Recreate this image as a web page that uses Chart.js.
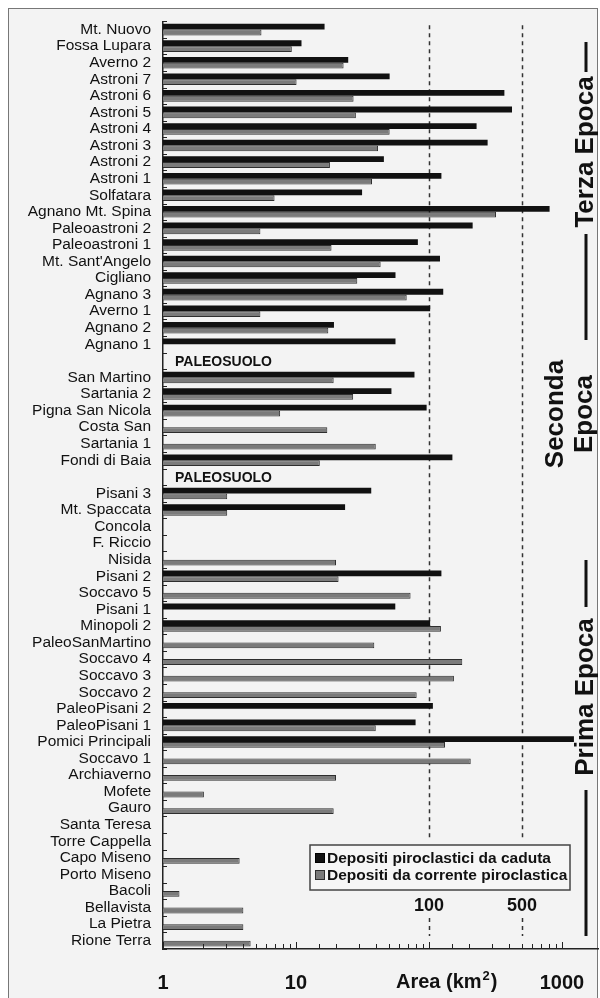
<!DOCTYPE html>
<html>
<head>
<meta charset="utf-8">
<script src="https://cdn.jsdelivr.net/npm/chart.js@4.4.1/dist/chart.umd.min.js"></script>
<style>
  html, body { margin: 0; padding: 0; background: #fff; }
  canvas { display: block; }
</style>
</head>
<body>
<canvas id="myChart" width="600" height="998"></canvas>
<script>
  // eruzioni, dall'alto in basso
  const categorie = [
    "Mt. Nuovo", "Fossa Lupara", "Averno 2", "Astroni 7", "Astroni 6", "Astroni 5",
    "Astroni 4", "Astroni 3", "Astroni 2", "Astroni 1", "Solfatara", "Agnano Mt. Spina",
    "Paleoastroni 2", "Paleoastroni 1", "Mt. Sant'Angelo", "Cigliano", "Agnano 3",
    "Averno 1", "Agnano 2", "Agnano 1", "PALEOSUOLO", "San Martino", "Sartania 2",
    "Pigna San Nicola", "Costa San", "Sartania 1", "Fondi di Baia", "PALEOSUOLO",
    "Pisani 3", "Mt. Spaccata", "Concola", "F. Riccio", "Nisida", "Pisani 2",
    "Soccavo 5", "Pisani 1", "Minopoli 2", "PaleoSanMartino", "Soccavo 4", "Soccavo 3",
    "Soccavo 2", "PaleoPisani 2", "PaleoPisani 1", "Pomici Principali", "Soccavo 1",
    "Archiaverno", "Mofete", "Gauro", "Santa Teresa", "Torre Cappella", "Capo Miseno",
    "Porto Miseno", "Bacoli", "Bellavista", "La Pietra", "Rione Terra"
  ];

  // Depositi piroclastici da caduta (km2)
  const caduta = [
    16.4, 11, 24.7, 50.6, 369, 421,
    228, 276, 45.8, 124, 31.4, 807,
    213, 82.5, 121, 56, 128,
    102, 19.3, 56, null, 77.8, 52.2,
    96, null, null, 150, null,
    36.8, 23.4, null, null, null, 124,
    null, 55.8, 102, null, null, null,
    null, 107, 79.3, 1230, null,
    null, null, null, null, null, null,
    null, null, null, null, null
  ];

  // Depositi da corrente piroclastica (km2)
  const corrente = [
    5.5, 9.3, 22.8, 10.1, 27.1, 28.2,
    50.6, 41.4, 18, 37.3, 6.9, 319,
    5.4, 18.5, 43.3, 28.9, 68,
    5.4, 17.5, null, null, 19.2, 26.9,
    7.6, 17.2, 39.8, 15.1, null,
    3.04, 3.04, null, null, 20, 20.9,
    72.7, null, 123, 38.8, 178, 154,
    80.8, null, 39.8, 132, 206,
    20, 2.03, 19.2, null, null, 3.77,
    null, 1.33, 4.02, 4.02, 4.56
  ];

  const tickEtichette = [1, 10, 1000];
  const lineeTratteggiate = [100, 500];

  const FONT = "'Liberation Sans', Arial, sans-serif";

  const decorazioni = {
    id: "decorazioni",
    beforeDraw(chart) {
      const c = chart.ctx;
      c.save();
      c.fillStyle = "#f3f3f3";
      c.fillRect(8, 8, 590, 1000);
      c.strokeStyle = "#777";
      c.lineWidth = 1;
      c.strokeRect(8.5, 8.5, 589, 1000);
      c.restore();
    },
    beforeDatasetsDraw(chart) {
      const c = chart.ctx;
      const x = chart.scales.x;
      const area = chart.chartArea;
      c.save();
      c.strokeStyle = "#333";
      c.lineWidth = 1.5;
      c.setLineDash([4, 4]);
      lineeTratteggiate.forEach(function (v) {
        const px = Math.round(x.getPixelForValue(v)) + 0.5;
        c.beginPath();
        c.moveTo(px, area.top + 4);
        c.lineTo(px, 838);
        c.moveTo(px, 918);
        c.lineTo(px, 936);
        c.stroke();
      });
      c.restore();
    },
    afterDraw(chart) {
      const c = chart.ctx;
      const x = chart.scales.x;
      const y = chart.scales.y;
      const area = chart.chartArea;
      c.save();

      // tacche asse x (verso l'interno)
      c.strokeStyle = "#222";
      c.lineWidth = 1;
      x.ticks.forEach(function (t) {
        if (t.value > 1000) return;
        const px = Math.round(x.getPixelForValue(t.value)) + 0.5;
        const major = Math.abs(Math.log10(t.value) % 1) < 1e-9;
        c.beginPath();
        c.moveTo(px, area.bottom);
        c.lineTo(px, area.bottom - (major ? 7 : 5));
        c.stroke();
      });

      // tacche asse y
      for (let i = 0; i <= categorie.length; i++) {
        const py = Math.round(area.top + (area.bottom - area.top) * i / categorie.length) + 0.5;
        c.beginPath();
        c.moveTo(area.left, py);
        c.lineTo(area.left + 4, py);
        c.stroke();
      }

      // PALEOSUOLO
      c.fillStyle = "#111";
      c.font = "bold 14px " + FONT;
      c.textBaseline = "middle";
      c.textAlign = "left";
      categorie.forEach(function (cat, i) {
        if (cat === "PALEOSUOLO") c.fillText(cat, area.left + 12, y.getPixelForValue(i) + 1);
      });

      // 100 e 500
      c.font = "bold 18px " + FONT;
      c.textAlign = "center";
      lineeTratteggiate.forEach(function (v) {
        c.fillText(String(v), x.getPixelForValue(v), 906);
      });

      // titolo asse
      c.font = "bold 20px " + FONT;
      c.textAlign = "left";
      const ax = 396, ay = 982;
      c.fillText("Area (km", ax, ay);
      let w = c.measureText("Area (km").width;
      c.font = "bold 13px " + FONT;
      c.fillText("2", ax + w + 1, ay - 6);
      const w2 = c.measureText("2").width;
      c.font = "bold 20px " + FONT;
      c.fillText(")", ax + w + w2 + 2, ay);

      // legenda
      const lx = 310, ly = 845, lw = 260, lh = 45;
      c.fillStyle = "#f6f6f6";
      c.fillRect(lx, ly, lw, lh);
      c.strokeStyle = "#444";
      c.lineWidth = 1.5;
      c.strokeRect(lx, ly, lw, lh);
      c.font = "bold 15.5px " + FONT;
      chart.data.datasets.forEach(function (ds, i) {
        const ry = ly + 13 + i * 17;
        c.fillStyle = ds.backgroundColor;
        c.fillRect(lx + 5, ry - 5, 10, 10);
        c.strokeStyle = ds.borderColor;
        c.lineWidth = 1;
        c.strokeRect(lx + 5.5, ry - 4.5, 9, 9);
        c.fillStyle = "#111";
        c.textAlign = "left";
        c.fillText(ds.label, lx + 17, ry + 1);
      });

      // epoche
      c.fillStyle = "#111";
      c.strokeStyle = "#111";
      c.lineWidth = 3;
      c.setLineDash([]);
      function verticale(testo, cx, cy) {
        c.save();
        c.translate(cx, cy);
        c.rotate(-Math.PI / 2);
        c.textAlign = "center";
        c.textBaseline = "middle";
        c.fillText(testo, 0, 0);
        c.restore();
      }
      function linea(cx, y1, y2) {
        c.beginPath();
        c.moveTo(cx, y1);
        c.lineTo(cx, y2);
        c.stroke();
      }
      c.font = "bold 26px " + FONT;
      verticale("Terza Epoca", 586, 152);
      linea(586, 42, 72);
      linea(586, 234, 340);
      verticale("Seconda", 556, 414);
      verticale("Epoca", 585, 414);
      verticale("Prima Epoca", 586, 697);
      linea(586, 560, 607);
      linea(586, 790, 936);

      c.restore();
    }
  };

  new Chart(document.getElementById("myChart"), {
    type: "bar",
    data: {
      labels: categorie,
      datasets: [
        {
          label: "Depositi piroclastici da caduta",
          data: caduta,
          backgroundColor: "#111111",
          borderColor: "#000000",
          borderWidth: 0
        },
        {
          label: "Depositi da corrente piroclastica",
          data: corrente,
          backgroundColor: "#7b7b7b",
          borderColor: "#2e2e2e",
          borderWidth: 1
        }
      ]
    },
    options: {
      indexAxis: "y",
      responsive: false,
      animation: false,
      devicePixelRatio: 1,
      categoryPercentage: 0.7,
      barPercentage: 1,
      layout: { padding: { top: 18, right: 2, bottom: 0, left: 0 } },
      plugins: {
        legend: { display: false },
        tooltip: { enabled: false }
      },
      scales: {
        x: {
          type: "logarithmic",
          min: 1,
          max: 1866,
          grid: { display: false, drawTicks: false },
          border: { display: true, color: "#222", width: 1.5 },
          ticks: {
            autoSkip: false,
            maxRotation: 0,
            padding: 22,
            color: "#111",
            font: { family: FONT, size: 20, weight: "bold" },
            callback: function (v) {
              return tickEtichette.indexOf(v) >= 0 ? String(v) : "";
            }
          },
          afterFit: function (s) {
            s.height = 49;
            s.paddingLeft = 0;
            s.paddingRight = 0;
          }
        },
        y: {
          grid: { display: false, drawTicks: false },
          border: { display: true, color: "#222", width: 1.5 },
          ticks: {
            autoSkip: false,
            padding: 12,
            color: "#111",
            font: { family: FONT, size: 15.5 },
            callback: function (v, i) {
              const l = categorie[i];
              return l === "PALEOSUOLO" ? "" : l;
            }
          },
          afterFit: function (s) { s.width = 163; }
        }
      }
    },
    plugins: [decorazioni]
  });
</script>
</body>
</html>
